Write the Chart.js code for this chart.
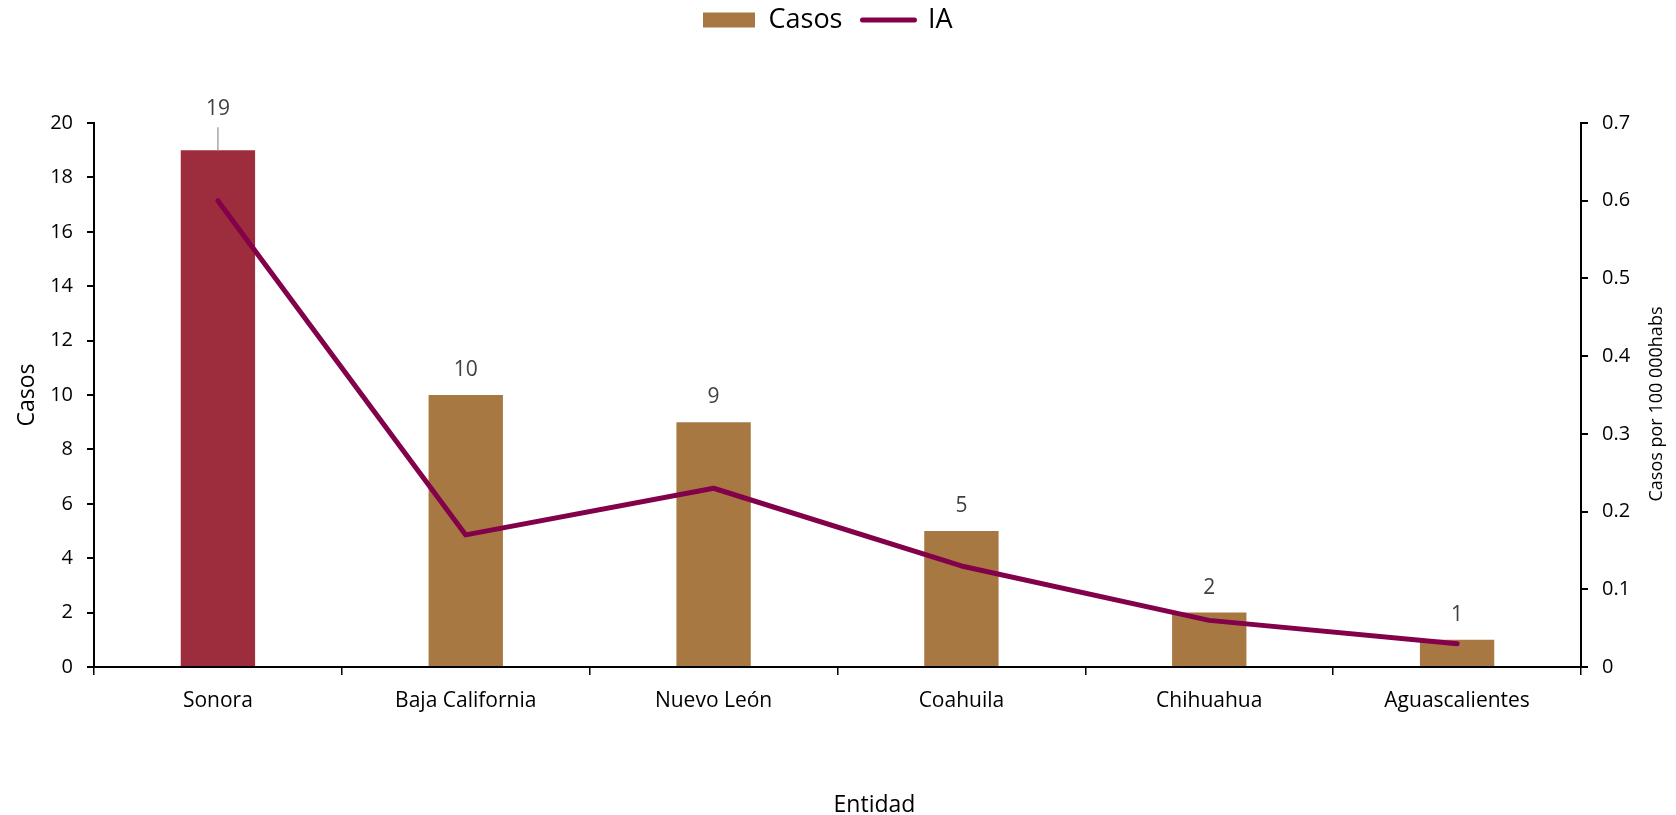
<!DOCTYPE html>
<html>
<head>
<meta charset="utf-8">
<script src="https://cdn.jsdelivr.net/npm/chart.js@4.4.0/dist/chart.umd.min.js"></script>
<style>
  html, body { margin: 0; padding: 0; background: #fff; }
  #wrap { width: 1676px; height: 815px; }
</style>
</head>
<body>
<div id="wrap"><canvas id="grafica"></canvas></div>
<script>
const entidades = ['Sonora', 'Baja California', 'Nuevo León', 'Coahuila', 'Chihuahua', 'Aguascalientes'];
const casos = [19, 10, 9, 5, 2, 1];
const ia = [0.60, 0.17, 0.23, 0.13, 0.06, 0.03];
const casosTicks = [0, 2, 4, 6, 8, 10, 12, 14, 16, 18, 20];
const iaTicks = [0, 0.1, 0.2, 0.3, 0.4, 0.5, 0.6, 0.7];

const rojo = '#9D2C3D';
const cafe = '#A87843';
const vino = '#83004B';
const fuente = "'Open Sans', sans-serif";

Chart.defaults.font.family = fuente;
Chart.defaults.color = '#000';

// etiquetas de datos encima de las barras (la de Sonora va desplazada con linea guia)
const etiquetas = {
    id: 'etiquetas',
    afterDatasetsDraw(chart) {
        const ctx = chart.ctx;
        const meta = chart.getDatasetMeta(0);
        ctx.save();
        ctx.font = '21px ' + fuente;
        ctx.fillStyle = '#404040';
        ctx.textAlign = 'center';
        ctx.textBaseline = 'middle';
        meta.data.forEach((bar, i) => {
            let lift = 25;
            if (i === 0) {
                lift = 41;
                ctx.strokeStyle = '#A6A6A6';
                ctx.lineWidth = 1.5;
                ctx.beginPath();
                ctx.moveTo(bar.x, bar.y);
                ctx.lineTo(bar.x, bar.y - 23);
                ctx.stroke();
            }
            ctx.fillText(String(casos[i]), bar.x, bar.y - lift);
        });
        ctx.restore();
    }
};

// titulos de ejes dibujados a mano: el derecho se lee de abajo hacia arriba
// y el de abajo va un poco corrido a la derecha como en el original
const titulos = {
    id: 'titulos',
    afterDraw(chart) {
        const ctx = chart.ctx;
        const area = chart.chartArea;
        const s = chart.scales.y1;
        ctx.save();
        ctx.fillStyle = '#000';
        ctx.textAlign = 'center';
        ctx.textBaseline = 'middle';

        ctx.save();
        ctx.translate(s.right - 19, (area.top + area.bottom) / 2 + 9);
        ctx.rotate(-Math.PI / 2);
        ctx.font = '18px ' + fuente;
        ctx.fillText('Casos por 100 000habs', 0, 0);
        ctx.restore();

        ctx.font = '23px ' + fuente;
        ctx.fillText('Entidad', (area.left + area.right) / 2 + 37, chart.height - 10);
        ctx.restore();
    }
};

// espacio fijo entre la leyenda y el area de trazado, y posicion de la leyenda
const espacioLeyenda = {
    id: 'espacioLeyenda',
    afterInit(chart) {
        const legend = chart.legend;
        const fit = legend.fit;
        legend.fit = function () {
            fit.call(this);
            this.height = 123;
        };
    },
    afterLayout(chart) {
        const lg = chart.legend;
        const pad = lg.options.labels.padding;
        const size = lg.options.labels.font.size;
        const dy = 20 - (pad + size / 2);
        lg.top += dy;
        lg.bottom += dy;
        const x0 = (lg.left + pad + lg.right - lg.lineWidths[0]) / 2;
        const dx = 703 - x0;
        lg.left += dx;
        lg.right += dx;
    }
};

const ejeY = {
    grid: { drawOnChartArea: false, drawTicks: true, tickLength: 7, color: '#000', lineWidth: 2 },
    border: { display: true, color: '#000', width: 2 },
};

new Chart(document.getElementById('grafica'), {
    data: {
        labels: entidades,
        datasets: [
            {
                type: 'bar',
                label: 'Casos',
                data: casos,
                yAxisID: 'y',
                order: 1,
                backgroundColor: casos.map((v, i) => i === 0 ? rojo : cafe),
                borderWidth: 0,
                barPercentage: 0.3,
                categoryPercentage: 1.0
            },
            {
                type: 'line',
                label: 'IA',
                data: ia,
                yAxisID: 'y1',
                order: 0,
                borderColor: vino,
                backgroundColor: vino,
                borderWidth: 5,
                borderCapStyle: 'round',
                borderJoinStyle: 'round',
                pointRadius: 0,
                pointHoverRadius: 0,
                tension: 0,
                fill: false
            }
        ]
    },
    options: {
        responsive: true,
        maintainAspectRatio: false,
        animation: false,
        layout: { padding: 0 },
        plugins: {
            tooltip: { enabled: false },
            legend: {
                position: 'top',
                labels: {
                    usePointStyle: true,
                    pointStyleWidth: 52,
                    boxHeight: 15,
                    padding: 20,
                    color: '#000',
                    font: { size: 27 },
                    generateLabels(chart) {
                        const items = Chart.defaults.plugins.legend.labels.generateLabels(chart);
                        items.forEach(it => {
                            if (it.datasetIndex === 0) {
                                it.fillStyle = cafe;
                                it.strokeStyle = cafe;
                                it.lineWidth = 0;
                                it.pointStyle = 'rect';
                            } else {
                                it.pointStyle = 'line';
                                it.strokeStyle = vino;
                                it.lineWidth = 5;
                                it.lineCap = 'round';
                            }
                        });
                        return items.sort((a, b) => a.datasetIndex - b.datasetIndex);
                    }
                }
            }
        },
        scales: {
            x: {
                offset: true,
                grid: { offset: true, drawOnChartArea: false, drawTicks: true, tickLength: 8, color: '#000', lineWidth: 1.5 },
                border: { display: true, color: '#000', width: 2 },
                ticks: { padding: 13, color: '#000', font: { size: 21 } },
                afterFit(s) { s.height = 148; }
            },
            y: {
                ...ejeY,
                position: 'left',
                min: 0,
                max: 20,
                ticks: { padding: 14, color: '#000', font: { size: 20 } },
                afterBuildTicks(s) { s.ticks = casosTicks.map(v => ({ value: v })); },
                title: { display: true, text: 'Casos', color: '#000', font: { size: 23 }, padding: { top: 14, bottom: 0 } },
                afterFit(s) { s.width = 94; }
            },
            y1: {
                ...ejeY,
                position: 'right',
                min: 0,
                max: 0.7,
                ticks: {
                    padding: 14,
                    color: '#000',
                    font: { size: 20 },
                    callback: v => v === 0 ? '0' : v.toFixed(1)
                },
                afterBuildTicks(s) { s.ticks = iaTicks.map(v => ({ value: v })); },
                afterFit(s) { s.width = 95; }
            }
        }
    },
    plugins: [etiquetas, titulos, espacioLeyenda]
});
</script>
</body>
</html>
